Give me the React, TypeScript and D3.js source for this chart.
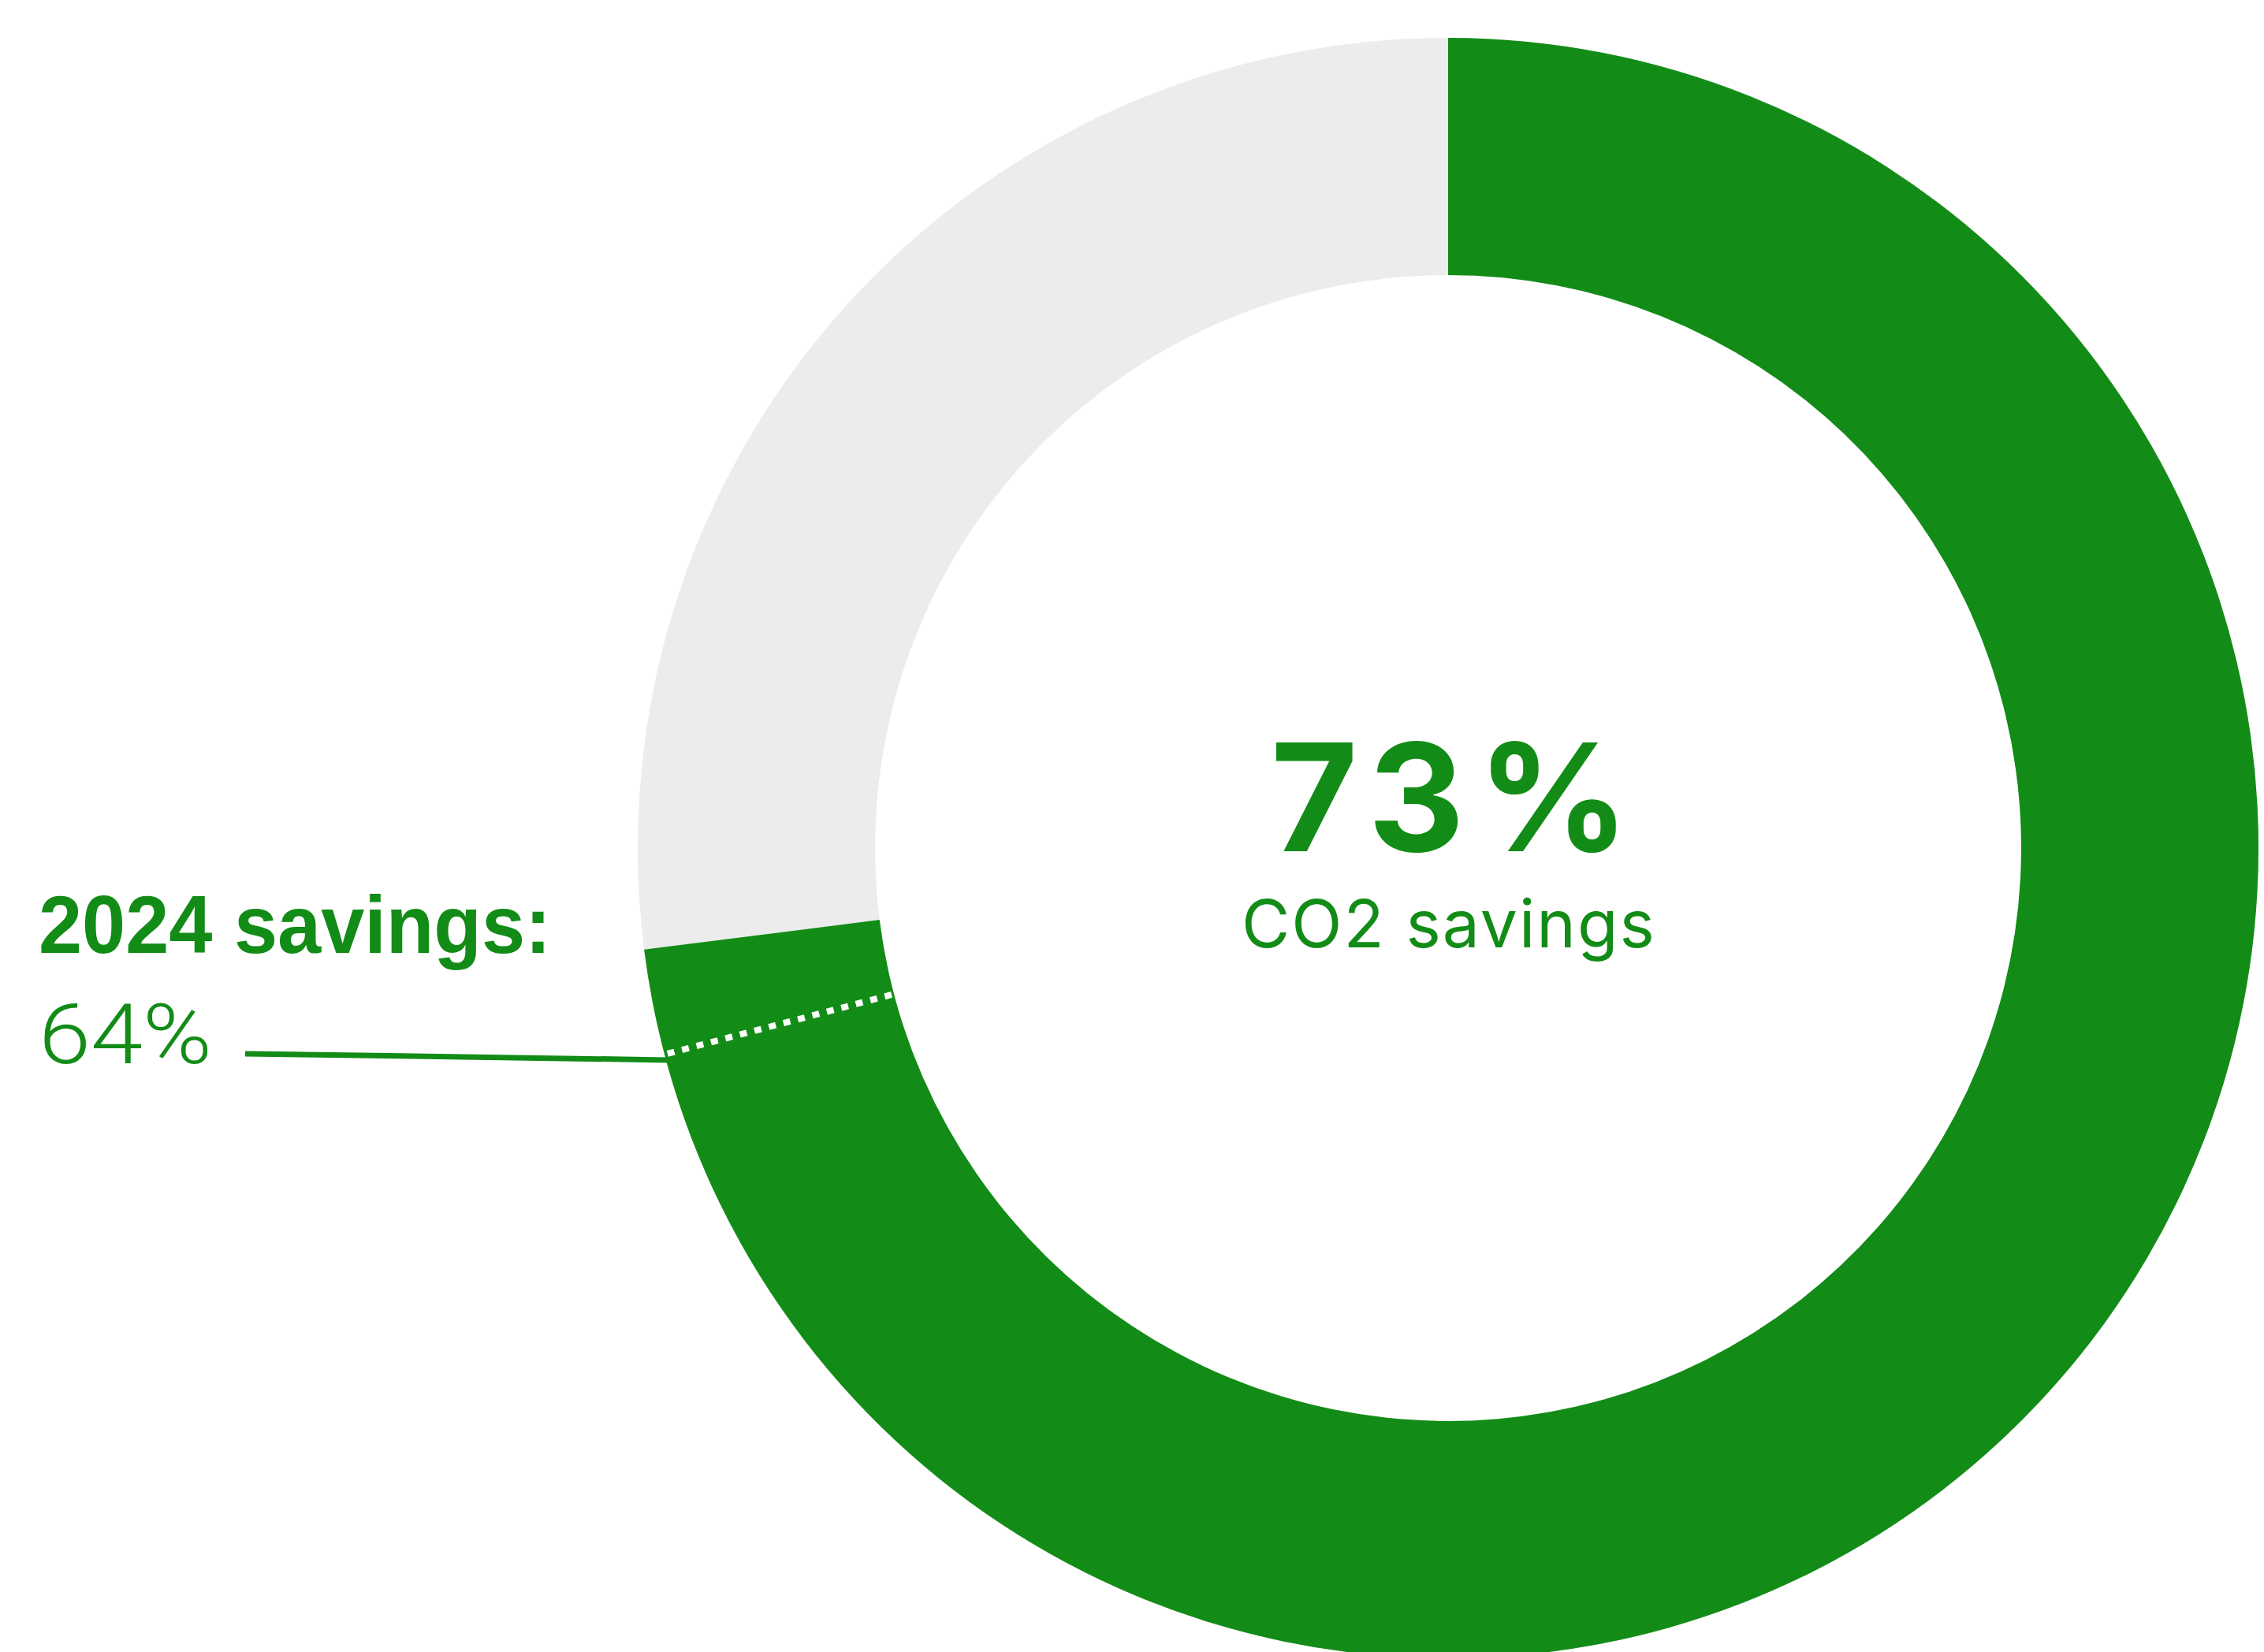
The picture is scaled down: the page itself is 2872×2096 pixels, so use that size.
import React from "react";
import * as d3 from "d3";

// ---- data ----
const currentSavings = 73; // % CO2 savings (big number, ring fill)
const previousSavings = 64; // 2024 savings label value
const markerPosition = 70.9; // where the 2024 marker sits on the ring scale (as drawn in the original)
const centerLabel = "CO2 savings";
const markerTitle = "2024 savings:";

const W = 2872;
const H = 2096;
const GREEN = "#128c17";
const GRAY = "#ececec";

export default function App() {
  const cx = 1837;
  const cy = 1076;
  const R = 1028;
  const r = 727;

  const angle = d3.scaleLinear().domain([0, 100]).range([0, 2 * Math.PI]);
  const arc = d3.arc<any>().innerRadius(r).outerRadius(R);

  const bg = arc({ startAngle: 0, endAngle: 2 * Math.PI } as any) as string;
  const fg = arc({ startAngle: 0, endAngle: angle(currentSavings) } as any) as string;

  const ma = angle(markerPosition);
  const [ox, oy] = d3.pointRadial(ma, R - 4);
  const [ix, iy] = d3.pointRadial(ma, r - 2);

  const labelX = 49;
  const leaderStartX = 311;

  return (
    <div style={{ position: "absolute", left: 0, top: 0, width: W, height: H, background: "#fff" }}>
      <svg width={W} height={H} viewBox={`0 0 ${W} ${H}`}>
        <g transform={`translate(${cx},${cy})`}>
          <path d={bg} fill={GRAY} />
          <path d={fg} fill={GREEN} />
          <line
            x1={ox}
            y1={oy}
            x2={ix}
            y2={iy}
            stroke="#fff"
            strokeWidth={8}
            strokeDasharray="9 10"
          />
          <text
            x={-225}
            y={4}
            fill={GREEN}
            fontFamily="Inter"
            fontWeight={700}
            fontSize={190}
            letterSpacing={16}
          >
            {`${currentSavings}%`}
          </text>
          <text
            x={-262}
            y={126}
            fill={GREEN}
            fontFamily="Inter"
            fontWeight={400}
            fontSize={84}
            letterSpacing={2}
          >
            {centerLabel}
          </text>
        </g>
        <line
          x1={leaderStartX}
          y1={cy + oy}
          x2={cx + ox}
          y2={cy + oy + 8}
          stroke={GREEN}
          strokeWidth={7}
        />
        <text
          x={labelX}
          y={1209}
          fill={GREEN}
          fontFamily="Liberation Sans"
          fontWeight={700}
          fontSize={104}
          textLength={650}
          lengthAdjust="spacingAndGlyphs"
        >
          {markerTitle}
        </text>
        <text
          x={labelX}
          y={1349}
          fill={GREEN}
          fontFamily="Roboto"
          fontWeight={300}
          fontSize={106}
          textLength={220}
          lengthAdjust="spacingAndGlyphs"
        >
          {`${previousSavings}%`}
        </text>
      </svg>
    </div>
  );
}
